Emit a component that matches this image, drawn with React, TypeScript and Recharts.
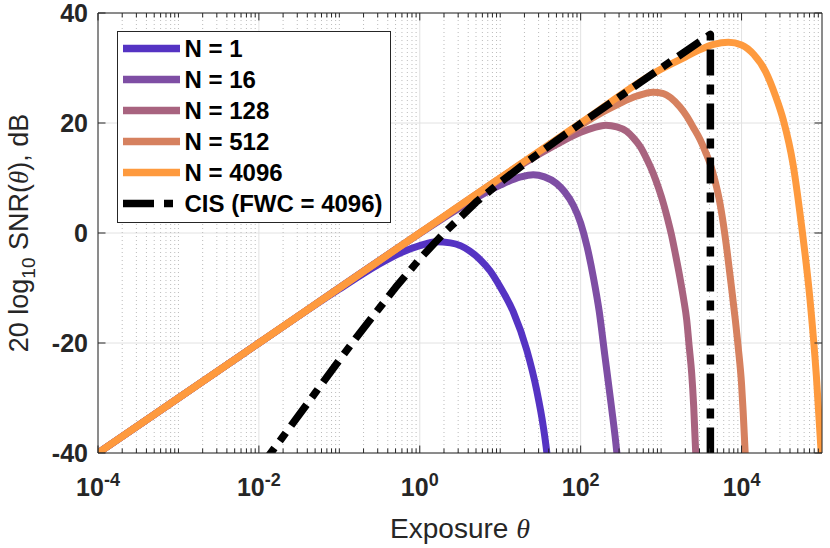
import {
  CartesianGrid,
  ComposedChart,
  Label,
  Legend,
  Line,
  ReferenceLine,
  XAxis,
  YAxis,
} from 'recharts'

// Axis ranges and labelled ticks
const X_MIN = 1e-4
const X_MAX = 1e5
const Y_MIN = -40
const Y_MAX = 40
const X_TICKS = [1e-4, 1e-2, 1, 1e2, 1e4]
const Y_TICKS = [-40, -20, 0, 20, 40]

// Minor ticks: 2..9 in every decade, plus the odd decades that carry no label.
const MINOR_MANTISSAS = [2, 3, 4, 5, 6, 7, 8, 9]
const DECADES = [-4, -3, -2, -1, 0, 1, 2, 3, 4]
const ODD_DECADES = [1e-3, 1e-1, 1e1, 1e3]
const X_MINOR = [
  ...DECADES.flatMap((d) => MINOR_MANTISSAS.map((m) => m * 10 ** d)),
  ...ODD_DECADES,
]

// Values (exposure θ, SNR in dB).
const THETA_N1 = [1e-4, 1e-3, 1e-2, 0.1, 0.3, 0.6, 1, 1.6, 2.4, 3.2, 4.2, 5.6, 7.5, 10, 14.5, 21.4, 28.4, 34.4, 38, 40.5]
const SNR_N1 = [-40, -30, -20, -10.2, -5.8, -3.5, -2.3, -1.6, -1.8, -2.3, -3.3, -4.8, -6.9, -9.8, -14.3, -21.3, -28.6, -35.3, -40, -44]

const THETA_N16 = [1e-4, 1e-2, 1, 4, 10, 18, 25.7, 35.5, 50.1, 63.1, 81.3, 100, 120.2, 144.5, 169.8, 199.5, 239.9, 281.8, 302]
const SNR_N16 = [-40, -20, -0.1, 5.5, 8.7, 10.2, 10.6, 10.2, 9.0, 7.5, 5.0, 1.8, -2.5, -8.2, -14.2, -22.2, -31.3, -40, -45]

const THETA_N128 = [1e-4, 1e-2, 1, 10, 20, 50, 100, 150, 204, 282, 372, 452, 550, 661, 800, 933, 1072, 1202, 1349, 1514, 1718, 1905, 2080, 2239, 2399, 2541, 2692, 2786]
const SNR_N128 = [-40, -20, 0, 9.8, 12.7, 16.1, 18.3, 19.2, 19.6, 19.3, 18.5, 17.3, 15.7, 13.5, 10.8, 8.1, 5.3, 2.6, -0.4, -4.0, -8.2, -12.0, -15.8, -20.8, -25.5, -31.5, -40, -46]

const THETA_N512 = [1e-4, 1e-2, 1, 10, 100, 200, 300, 500, 794, 1047, 1318, 1718, 2089, 2512, 3048, 3548, 4093, 4677, 5248, 5888, 6607, 7413, 8318, 9120, 10000, 10471, 11092, 11749]
const SNR_N512 = [-40, -20, 0, 10.0, 19.6, 22.2, 23.5, 24.9, 25.6, 25.4, 24.6, 22.9, 21.2, 19.2, 17.0, 14.8, 12.5, 9.5, 6.3, 2.0, -3.3, -9.3, -15.5, -21.0, -27.5, -32.5, -40, -49]

const THETA_N4096 = [1e-4, 1e-2, 1, 100, 1000, 2000, 3000, 4500, 6855, 10000, 14125, 19953, 26303, 33113, 43652, 54954, 70795, 85114, 97724, 100000]
const SNR_N4096 = [-40, -20, 0, 20, 29.8, 32.0, 33.3, 34.3, 34.7, 34.2, 32.5, 29.3, 25, 20.5, 12.5, 2, -12, -26, -40, -42]

const THETA_CIS = [0.01, 0.02, 0.05, 0.1, 0.2, 0.5, 1, 2, 5, 10, 20, 50, 100, 300, 1000, 4096, 4096]
const SNR_CIS = [-42.9, -37.0, -29.1, -23.1, -17.3, -9.9, -4.7, 0.0, 5.6, 9.2, 12.6, 16.8, 19.9, 24.7, 30.0, 36.1, -45]

const AXIS = '#262626'
const FONT = '"Liberation Sans", Arial, Helvetica, sans-serif'
const SERIF = '"Liberation Serif", "DejaVu Serif", serif'

// Inner tick-mark lengths, in data units (dB for x ticks, a θ factor for y ticks).
const MAJOR_TICK_DB = 1.36
const MINOR_TICK_DB = 0.82
const Y_TICK_FACTOR = 1.24

type Series = {
  name: string
  color: string
  theta: number[]
  snr: number[]
  dash?: string
  legendDash?: string
}

const SERIES: Series[] = [
  { name: 'N = 1', color: '#5533c3', theta: THETA_N1, snr: SNR_N1 },
  { name: 'N = 16', color: '#7e4ea4', theta: THETA_N16, snr: SNR_N16 },
  { name: 'N = 128', color: '#a8637f', theta: THETA_N128, snr: SNR_N128 },
  { name: 'N = 512', color: '#d6815f', theta: THETA_N512, snr: SNR_N512 },
  { name: 'N = 4096', color: '#fe9a3e', theta: THETA_N4096, snr: SNR_N4096 },
  {
    name: 'CIS (FWC = 4096)',
    color: '#000000',
    theta: THETA_CIS,
    snr: SNR_CIS,
    dash: '26 9 10 9',
    legendDash: '31 10 9 10',
  },
]

const toPoints = (s: Series) => s.theta.map((theta, i) => ({ theta, snr: s.snr[i] }))

function PowerTick({ x, y, payload }: any) {
  const exp = Math.round(Math.log10(payload.value))
  return (
    <text x={x} y={y + 43} textAnchor="middle" fontFamily={FONT} fontWeight="bold" fontSize={25} fill={AXIS}>
      10
      <tspan dy={-10} fontSize={18}>
        {exp}
      </tspan>
    </text>
  )
}

function ValueTick({ x, y, payload }: any) {
  return (
    <text x={x - 10} y={y + 9} textAnchor="end" fontFamily={FONT} fontWeight="bold" fontSize={25} fill={AXIS}>
      {payload.value}
    </text>
  )
}

function XTitle({ viewBox }: any) {
  const cx = viewBox.x + viewBox.width / 2
  return (
    <text x={cx} y={viewBox.y + 85} textAnchor="middle" fontFamily={FONT} fontSize={28} fill={AXIS}>
      Exposure{' '}
      <tspan fontFamily={SERIF} fontStyle="italic">
        θ
      </tspan>
    </text>
  )
}

function YTitle({ viewBox }: any) {
  const cx = viewBox.x + 28
  const cy = viewBox.y + viewBox.height / 2
  return (
    <text
      x={cx}
      y={cy}
      transform={`rotate(-90, ${cx}, ${cy})`}
      textAnchor="middle"
      fontFamily={FONT}
      fontSize={27}
      fill={AXIS}
    >
      20 log
      <tspan fontSize={19} dy={7}>
        10
      </tspan>
      <tspan dy={-7}> SNR(</tspan>
      <tspan fontFamily={SERIF} fontStyle="italic">
        θ
      </tspan>
      ), dB
    </text>
  )
}

function LegendBox() {
  return (
    <div
      style={{
        width: 274,
        height: 192,
        boxSizing: 'border-box',
        border: `1px solid ${AXIS}`,
        background: '#fff',
        paddingTop: 1.5,
      }}
    >
      {SERIES.map((s) => (
        <div key={s.name} style={{ height: 31, display: 'flex', alignItems: 'center' }}>
          <svg width={67} height={31} style={{ flexShrink: 0 }}>
            <line x1={5} x2={62} y1={15.5} y2={15.5} stroke={s.color} strokeWidth={7.5} strokeDasharray={s.legendDash} />
          </svg>
          <span style={{ font: `bold 24px ${FONT}`, color: '#000', whiteSpace: 'nowrap' }}>{s.name}</span>
        </div>
      ))}
    </div>
  )
}

// Tick marks drawn inward from the box edges, positioned through the axis scales.
function xTickMarks(values: number[], len: number, prefix: string) {
  return values.flatMap((v) => [
    <ReferenceLine
      key={`${prefix}b${v}`}
      segment={[{ x: v, y: Y_MIN }, { x: v, y: Y_MIN + len }]}
      stroke={AXIS}
      strokeWidth={1}
      ifOverflow="visible"
    />,
    <ReferenceLine
      key={`${prefix}t${v}`}
      segment={[{ x: v, y: Y_MAX }, { x: v, y: Y_MAX - len }]}
      stroke={AXIS}
      strokeWidth={1}
      ifOverflow="visible"
    />,
  ])
}

function yTickMarks(values: number[]) {
  return values.flatMap((v) => [
    <ReferenceLine
      key={`yl${v}`}
      segment={[{ x: X_MIN, y: v }, { x: X_MIN * Y_TICK_FACTOR, y: v }]}
      stroke={AXIS}
      strokeWidth={1}
      ifOverflow="visible"
    />,
    <ReferenceLine
      key={`yr${v}`}
      segment={[{ x: X_MAX / Y_TICK_FACTOR, y: v }, { x: X_MAX, y: v }]}
      stroke={AXIS}
      strokeWidth={1}
      ifOverflow="visible"
    />,
  ])
}

export default function App() {
  return (
    <div style={{ width: 830, height: 548, background: '#fff' }}>
      <style>{'body { margin: 0; }'}</style>
      <ComposedChart width={830} height={548} margin={{ top: 13, right: 8, bottom: 0, left: 0 }}>
        <CartesianGrid stroke="#e2e2e2" strokeWidth={1} />
        {X_MINOR.map((v) => (
          <ReferenceLine key={`g${v}`} x={v} stroke="#bbbbbb" strokeWidth={1} strokeDasharray="1 3" />
        ))}

        <XAxis
          type="number"
          scale="log"
          dataKey="theta"
          domain={[X_MIN, X_MAX]}
          allowDataOverflow
          interval={0}
          ticks={X_TICKS}
          tick={<PowerTick />}
          tickLine={false}
          tickSize={0}
          tickMargin={0}
          height={95}
          axisLine={{ stroke: AXIS, strokeWidth: 1 }}
        >
          <Label content={<XTitle />} />
        </XAxis>
        <YAxis
          type="number"
          domain={[Y_MIN, Y_MAX]}
          allowDataOverflow
          interval={0}
          ticks={Y_TICKS}
          width={98}
          tick={<ValueTick />}
          tickLine={false}
          tickSize={0}
          tickMargin={0}
          axisLine={{ stroke: AXIS, strokeWidth: 1 }}
        >
          <Label content={<YTitle />} />
        </YAxis>

        {SERIES.map((s) => (
          <Line
            key={s.name}
            data={toPoints(s)}
            dataKey="snr"
            name={s.name}
            type={s.dash ? 'linear' : 'monotone'}
            stroke={s.color}
            strokeWidth={s.dash ? 7.5 : 7}
            strokeDasharray={s.dash}
            strokeLinejoin="round"
            dot={false}
            activeDot={false}
            isAnimationActive={false}
          />
        ))}

        {/* box: top and right edges, then the inward tick marks */}
        <ReferenceLine y={Y_MAX} stroke={AXIS} strokeWidth={1} ifOverflow="visible" />
        <ReferenceLine x={X_MAX} stroke={AXIS} strokeWidth={1} ifOverflow="visible" />
        {xTickMarks(X_TICKS, MAJOR_TICK_DB, 'M')}
        {xTickMarks(X_MINOR, MINOR_TICK_DB, 'm')}
        {yTickMarks(Y_TICKS)}

        <Legend
          layout="vertical"
          align="center"
          verticalAlign="middle"
          content={<LegendBox />}
          wrapperStyle={{ left: 116.5, top: 30.5, width: 274, height: 192 }}
        />
      </ComposedChart>
    </div>
  )
}
